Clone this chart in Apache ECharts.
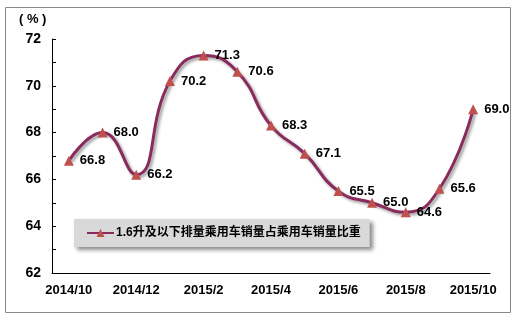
<!DOCTYPE html>
<html><head><meta charset="utf-8">
<script src="https://cdn.jsdelivr.net/npm/echarts@6/dist/echarts.min.js"></script>
<style>html,body{margin:0;padding:0;background:#fff}#c{width:519px;height:322px}</style>
</head><body><div id="c"></div>
<script>
var categories = ['2014/10','2014/11','2014/12','2015/1','2015/2','2015/3','2015/4','2015/5','2015/6','2015/7','2015/8','2015/9','2015/10'];
var values = [66.8, 68.0, 66.2, 70.2, 71.3, 70.6, 68.3, 67.1, 65.5, 65.0, 64.6, 65.6, 69.0];
var seriesName = '1.6升及以下排量乘用车销量占乘用车销量比重';
var unitLabel = '( % )';

var chart = echarts.init(document.getElementById('c'));
var font = 'Arial, "Liberation Sans", "Noto Sans CJK SC", sans-serif';
chart.setOption({
  animation: false,
  textStyle: {fontFamily: font},
  graphic: [
    {type: 'rect', shape: {x: 5.5, y: 7.5, width: 505, height: 305}, style: {fill: 'none', stroke: '#888', lineWidth: 1}, z: -1},
    {type: 'text', left: 19, top: 13, style: {text: unitLabel, font: 'bold 13px ' + font, fill: '#000'}}
  ],
  grid: {left: 52, right: 29, top: 39, bottom: 49},
  legend: {
    left: 74, top: 219,
    padding: [8, 9, 8, 12],
    backgroundColor: '#d9d9d9',
    shadowColor: 'rgba(0,0,0,0.45)', shadowBlur: 4, shadowOffsetX: 3, shadowOffsetY: 3,
    itemWidth: 27, itemHeight: 10, itemGap: 4,
    textStyle: {fontWeight: 'bold', fontSize: 12, color: '#000', fontFamily: font, padding: [0, 0, 0, -3]},
    data: [seriesName]
  },
  xAxis: {
    type: 'category', data: categories, boundaryGap: true,
    axisLine: {lineStyle: {color: '#000', width: 1}},
    axisTick: {inside: true, length: 4, lineStyle: {color: '#000'}},
    axisLabel: {interval: 1, color: '#000', fontWeight: 'bold', fontSize: 13, margin: 11}
  },
  yAxis: {
    type: 'value', min: 62, max: 72, interval: 2,
    axisLine: {show: true, lineStyle: {color: '#000', width: 1}},
    axisTick: {show: true, inside: true, length: 4, lineStyle: {color: '#000'}},
    minorTick: {show: true, splitNumber: 2, length: 4, lineStyle: {color: '#000'}},
    splitLine: {show: false},
    axisLabel: {color: '#000', fontWeight: 'bold', fontSize: 14, margin: 11}
  },
  series: [{
    name: seriesName, type: 'line', data: values, smooth: 0.5,
    symbol: 'triangle', symbolSize: 10,
    itemStyle: {color: '#c0504d'},
    lineStyle: {color: '#8a2b5e', width: 3, shadowColor: 'rgba(0,0,0,0.4)', shadowBlur: 3, shadowOffsetX: 2, shadowOffsetY: 2},
    label: {show: true, position: 'right', distance: 6, color: '#000', fontSize: 13, fontWeight: 'bold',
      formatter: function(p){ return p.value.toFixed(1); }}
  }]
});
</script></body></html>
